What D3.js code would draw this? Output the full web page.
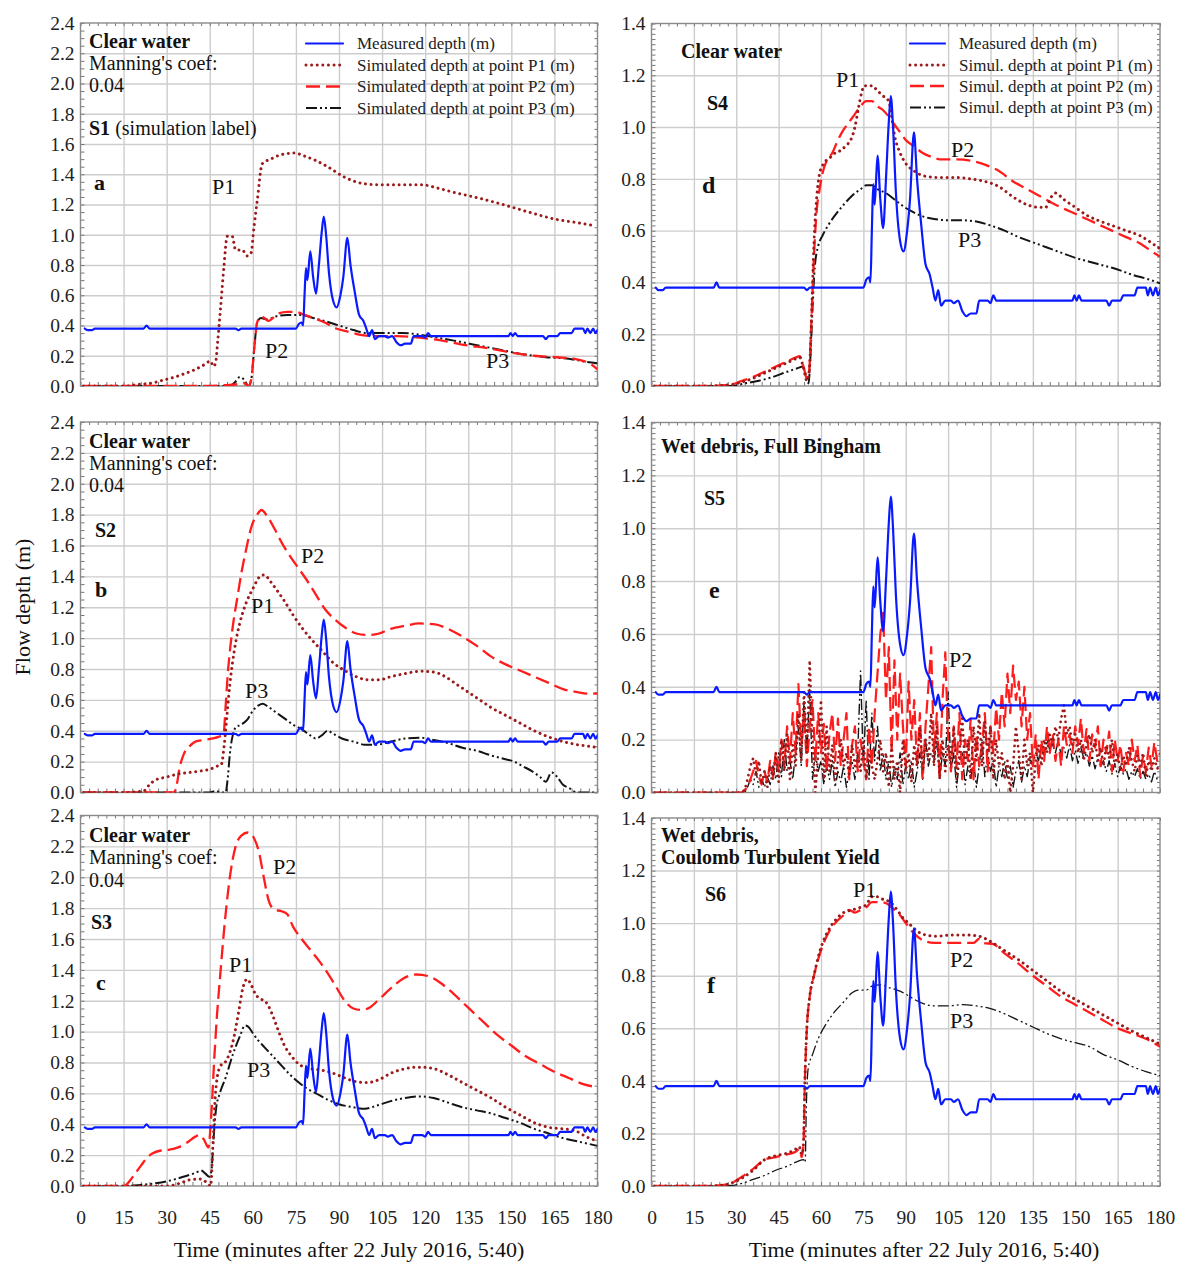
<!DOCTYPE html>
<html><head><meta charset="utf-8">
<script src="https://cdn.jsdelivr.net/npm/d3@7"></script>
<style>body{margin:0;background:#fff}</style>
</head><body>
<svg id="chart" width="1179" height="1262"></svg>
<script>
// ---------------- DATA ----------------
// Measured depth (same in all panels): [time (min), depth (m)]
const measured = [[1.5,0.38],[2.5,0.37],[4,0.37],[5,0.38],[22,0.38],[23,0.40],[24,0.38],[54,0.38],[55,0.37],[56,0.38],[75,0.38],[76,0.41],[77,0.42],[77.5,0.40],[78,0.60],[78.5,0.78],[79,0.70],[80,0.89],[81,0.72],[82,0.61],[83,0.80],[84,1.02],[84.7,1.12],[85.5,1.0],[86.5,0.75],[88,0.56],[89.2,0.52],[90.5,0.60],[91.5,0.72],[92.9,0.98],[94,0.80],[95.5,0.62],[97,0.47],[98.5,0.43],[99.5,0.38],[100.5,0.33],[101.5,0.37],[102.5,0.31],[104,0.33],[106,0.33],[107,0.32],[108.5,0.33],[110,0.29],[111.5,0.27],[113,0.28],[115,0.28],[116,0.33],[119,0.33],[120,0.32],[121,0.35],[122,0.33],[149,0.33],[149.7,0.35],[150.5,0.33],[151.3,0.35],[152.2,0.33],[161,0.33],[162,0.31],[163,0.33],[166,0.33],[167,0.35],[171,0.35],[172,0.38],[175,0.38],[175.7,0.35],[176.5,0.38],[177.5,0.35],[178.5,0.38],[179.3,0.35],[180,0.37]];

// Panel a (S1)
const aP1 = [[1,0],[10,0],[16,0.0],[20,0.01],[25,0.02],[29,0.04],[33,0.06],[36,0.08],[40,0.11],[43,0.14],[45.3,0.165],[46.2,0.13],[47,0.15],[47.8,0.3],[48.7,0.5],[49.9,0.78],[51.1,0.99],[52.8,0.99],[54,0.9],[56.3,0.9],[58,0.86],[59.4,0.88],[60.4,1.05],[61.5,1.22],[63.3,1.47],[66.2,1.5],[70,1.53],[74.5,1.54],[78,1.52],[82,1.49],[86,1.45],[92,1.38],[98,1.34],[104,1.33],[112,1.33],[119,1.33],[124,1.31],[130,1.28],[137,1.25],[147,1.2],[156,1.15],[166,1.1],[173,1.08],[179,1.06]];
const aP2 = [[1,0],[20,0],[40,0],[50,0.005],[54,0.01],[57,0.02],[58.5,0.0],[59.5,0.05],[60.5,0.25],[61.5,0.42],[62.8,0.46],[64,0.45],[65.5,0.43],[67,0.45],[69,0.48],[72,0.49],[75,0.49],[78,0.47],[81,0.45],[85,0.42],[89,0.38],[93,0.36],[97,0.34],[102,0.33],[110,0.33],[118,0.32],[126,0.3],[134,0.27],[142,0.25],[150,0.22],[158,0.2],[166,0.19],[172,0.18],[176,0.16],[178,0.14],[180,0.11]];
const aP3 = [[1,0],[20,0],[40,0],[52,0.0],[54,0.03],[55.5,0.06],[57,0.04],[58.5,0.0],[59.5,0.05],[60.5,0.25],[61.5,0.42],[62.8,0.45],[65,0.44],[68,0.46],[72,0.47],[77,0.47],[81,0.45],[85,0.43],[90,0.4],[95,0.37],[100,0.35],[105,0.35],[112,0.35],[118,0.34],[124,0.32],[130,0.3],[138,0.27],[146,0.24],[154,0.21],[162,0.19],[170,0.18],[176,0.16],[180,0.15]];

// Panel b (S2)
const bP1 = [[1,0],[15,0],[22,0.01],[24,0.05],[26,0.08],[30,0.1],[34,0.12],[38,0.13],[42,0.14],[45,0.15],[47.5,0.17],[49,0.18],[50,0.3],[51,0.5],[52,0.7],[53,0.85],[54,0.97],[55.5,1.1],[57.5,1.22],[60,1.32],[62.5,1.4],[64,1.41],[66,1.37],[68,1.32],[71,1.24],[74,1.15],[77,1.07],[80,1.0],[84,0.92],[88,0.84],[92,0.79],[96,0.75],[100,0.73],[104,0.73],[108,0.75],[113,0.77],[118,0.785],[123,0.78],[127,0.75],[131,0.7],[135,0.65],[139,0.6],[143,0.55],[148,0.5],[153,0.45],[158,0.4],[163,0.36],[168,0.33],[173,0.31],[177,0.3],[180,0.29]];
const bP2 = [[1,0],[20,0],[30,0],[32.5,0.0],[33.5,0.05],[34.5,0.16],[36,0.25],[38,0.3],[40,0.33],[43,0.34],[46,0.35],[48,0.36],[49.8,0.38],[50.5,0.55],[51.2,0.75],[52.2,0.95],[53.2,1.1],[54.5,1.25],[56,1.42],[57.5,1.56],[59.5,1.72],[61.5,1.8],[63,1.83],[65,1.79],[67.5,1.71],[70,1.62],[73,1.53],[76,1.45],[79,1.37],[82,1.28],[85,1.19],[88,1.13],[92,1.07],[96,1.03],[100,1.02],[104,1.03],[108,1.06],[113,1.08],[118,1.095],[123,1.09],[128,1.06],[133,1.01],[138,0.95],[143,0.88],[148,0.83],[153,0.79],[158,0.75],[163,0.71],[168,0.67],[173,0.65],[177,0.64],[180,0.64]];
const bP3 = [[1,0],[20,0],[40,0],[45,0.0],[47,0.01],[49,0.0],[50.5,0.0],[51.3,0.1],[52,0.25],[53,0.37],[54,0.42],[56,0.44],[58,0.47],[60,0.53],[62,0.565],[63.5,0.575],[65,0.56],[68,0.52],[71,0.48],[74,0.44],[77,0.41],[80,0.37],[82,0.35],[84,0.37],[86,0.4],[88,0.38],[91,0.35],[95,0.33],[99,0.31],[103,0.31],[108,0.33],[113,0.35],[118,0.355],[123,0.34],[128,0.32],[133,0.29],[138,0.27],[143,0.24],[147,0.22],[151,0.2],[154,0.17],[157,0.14],[160,0.1],[162,0.07],[164,0.13],[166,0.1],[168,0.05],[170,0.03],[173,0.0],[180,0.0]];

// Panel c (S3)
const cP1 = [[1,0],[20,0],[30,0.0],[35,0.02],[38,0.04],[42,0.045],[44,0.02],[45.3,0.0],[46.2,0.3],[47,0.6],[48.5,0.77],[51,0.82],[53,0.93],[55,1.12],[56.5,1.28],[58,1.34],[59.5,1.3],[61,1.24],[63,1.21],[65,1.18],[67,1.1],[69,1.0],[71,0.91],[73.5,0.84],[76,0.79],[80,0.76],[84,0.75],[88,0.73],[92,0.7],[96,0.675],[100,0.67],[104,0.69],[108,0.73],[113,0.76],[118,0.77],[123,0.76],[128,0.72],[133,0.67],[138,0.62],[143,0.57],[148,0.51],[153,0.46],[158,0.41],[163,0.38],[168,0.37],[172,0.36],[176,0.32],[180,0.29]];
const cP2 = [[1,0],[10,0],[15,0.0],[17,0.03],[19,0.08],[21,0.13],[23,0.18],[25,0.21],[28,0.23],[31,0.235],[34,0.25],[37,0.28],[40,0.32],[41.5,0.33],[43,0.3],[44.5,0.25],[45.5,0.45],[46.5,0.8],[47.5,1.1],[48.8,1.4],[50.2,1.7],[52,2.0],[54,2.2],[56,2.27],[58.3,2.29],[60.5,2.25],[62.3,2.15],[63.8,2.0],[65.5,1.85],[67.5,1.79],[70,1.78],[72,1.76],[74,1.68],[77,1.6],[80,1.53],[83,1.46],[86,1.38],[89,1.29],[92,1.2],[95,1.15],[98,1.14],[101,1.16],[104,1.21],[108,1.28],[112,1.34],[117,1.37],[121,1.36],[125,1.32],[129,1.26],[133,1.19],[137,1.12],[141,1.05],[145,0.98],[150,0.91],[155,0.84],[160,0.79],[165,0.74],[170,0.7],[175,0.66],[180,0.64]];
const cP3 = [[1,0],[15,0],[20,0.005],[25,0.015],[30,0.03],[35,0.055],[40,0.085],[42,0.1],[43.5,0.08],[44.8,0.06],[45.6,0.1],[46.3,0.3],[47.2,0.5],[48.5,0.6],[50.5,0.7],[53,0.85],[55.5,0.97],[57.3,1.04],[58.5,1.03],[60,0.99],[62,0.94],[64,0.9],[67,0.84],[70,0.78],[73,0.72],[76,0.67],[79,0.63],[82,0.6],[86,0.56],[90,0.53],[95,0.51],[99,0.5],[103,0.52],[108,0.55],[113,0.57],[118,0.58],[123,0.57],[128,0.54],[133,0.51],[138,0.49],[143,0.47],[148,0.44],[153,0.41],[158,0.37],[163,0.34],[168,0.31],[174,0.285],[180,0.26]];

// Panel d (S4)
const dP1 = [[1,0],[20,0],[28,0.005],[32,0.015],[36,0.03],[40,0.05],[44,0.07],[48,0.09],[51,0.105],[52.5,0.11],[53.8,0.07],[55,0.02],[55.8,0.05],[56.6,0.25],[57.5,0.55],[58.5,0.73],[59.5,0.82],[61,0.86],[63,0.88],[65,0.9],[67,0.91],[69,0.93],[70.5,0.95],[72,1.0],[73.2,1.07],[74.3,1.13],[75.5,1.16],[78,1.16],[80,1.14],[82,1.12],[84,1.1],[85,1.04],[86,0.97],[88,0.9],[90,0.86],[93,0.83],[97,0.81],[102,0.805],[108,0.805],[113,0.8],[118,0.79],[123,0.77],[128,0.73],[133,0.7],[137,0.69],[139.5,0.69],[141.5,0.73],[143,0.745],[146,0.72],[150,0.69],[154,0.66],[158,0.64],[163,0.62],[168,0.6],[173,0.58],[178,0.545],[180,0.53]];
const dP2 = [[1,0],[20,0],[28,0.005],[32,0.02],[36,0.035],[40,0.055],[44,0.075],[48,0.095],[51,0.11],[52.5,0.115],[53.8,0.075],[55,0.03],[55.8,0.06],[56.6,0.25],[57.5,0.5],[58.5,0.68],[59.5,0.76],[60.5,0.82],[62,0.87],[64,0.9],[66,0.95],[68,0.99],[70,1.02],[72,1.05],[74,1.08],[76,1.1],[78,1.1],[80,1.08],[82,1.065],[84,1.04],[86,1.01],[88,0.98],[90,0.95],[93,0.925],[96,0.9],[99,0.885],[103,0.875],[108,0.875],[113,0.87],[118,0.855],[123,0.83],[128,0.79],[133,0.76],[138,0.73],[143,0.7],[148,0.675],[153,0.65],[158,0.625],[163,0.6],[168,0.575],[173,0.55],[177,0.52],[180,0.5]];
const dP3 = [[1,0],[20,0],[28,0.0],[33,0.01],[38,0.02],[43,0.035],[48,0.055],[52,0.07],[53.5,0.075],[55,0.03],[55.6,0.01],[56.2,0.1],[57,0.3],[57.8,0.46],[59,0.54],[60.5,0.58],[62.5,0.62],[65,0.66],[68,0.7],[71,0.735],[74,0.76],[76,0.775],[78,0.775],[80,0.76],[83,0.745],[86,0.72],[89,0.695],[92,0.675],[96,0.655],[100,0.645],[105,0.64],[110,0.64],[115,0.635],[120,0.62],[125,0.6],[130,0.575],[135,0.555],[140,0.535],[145,0.515],[150,0.495],[155,0.48],[160,0.465],[165,0.45],[170,0.43],[175,0.415],[180,0.397]];

// Panel e (S5): values at one-minute steps from 30 to 180 min (zero before)
const eStart = 30;
const eP1 = [0,0,0,0.01,0.05,0.1,0.13,0.06,0.12,0.03,
 0.08,0.02,0.1,0.05,0.15,0.04,0.2,0.08,0.22,0.05,
 0.18,0.1,0.3,0.12,0.38,0.15,0.5,0.2,0.0,0.15,
 0.35,0.05,0.25,0.08,0.18,0.05,0.12,0.2,0.1,0.15,
 0.06,0.18,0.1,0.14,0.08,0.2,0.05,0.15,0.1,0.05,
 0.12,0.2,0.08,0.15,0.02,0.18,0.05,0.12,0.0,0.2,
 0.08,0.15,0.04,0.18,0.1,0.25,0.08,0.2,0.12,0.3,
 0.1,0.25,0.05,0.2,0.08,0.18,0.1,0.25,0.05,0.15,
 0.28,0.1,0.2,0.05,0.25,0.12,0.3,0.1,0.27,0.15,
 0.25,0.05,0.2,0.1,0.15,0.05,0.12,0.0,0.1,0.25,
 0.15,0.05,0.2,0.1,0.15,0.0,0.12,0.18,0.1,0.2,
 0.15,0.22,0.18,0.25,0.2,0.28,0.33,0.22,0.25,0.18,
 0.22,0.15,0.2,0.12,0.18,0.22,0.15,0.2,0.12,0.17,
 0.1,0.18,0.13,0.2,0.1,0.15,0.08,0.14,0.1,0.17,
 0.12,0.08,0.14,0.1,0.15,0.06,0.12,0.08,0.13,0.09,
 0.1];
const eP2 = [0,0,0,0.01,0.02,0.05,0.08,0.12,0.06,0.03,
 0.08,0.04,0.12,0.06,0.15,0.08,0.2,0.1,0.25,0.12,
 0.3,0.15,0.41,0.18,0.3,0.1,0.25,0.35,0.12,0.3,
 0.15,0.26,0.08,0.22,0.3,0.12,0.28,0.1,0.2,0.3,
 0.05,0.18,0.25,0.08,0.2,0.12,0.05,0.25,0.1,0.3,
 0.45,0.6,0.68,0.35,0.55,0.15,0.5,0.2,0.45,0.25,
 0.1,0.42,0.2,0.35,0.1,0.3,0.05,0.25,0.4,0.55,
 0.15,0.3,0.05,0.35,0.53,0.2,0.08,0.25,0.1,0.3,
 0.05,0.2,0.12,0.28,0.05,0.22,0.1,0.18,0.3,0.08,
 0.25,0.15,0.32,0.2,0.38,0.25,0.45,0.3,0.48,0.35,
 0.42,0.25,0.4,0.2,0.3,0.1,0.22,0.05,0.2,0.12,
 0.25,0.15,0.22,0.12,0.2,0.1,0.25,0.18,0.22,0.15,
 0.25,0.18,0.28,0.15,0.24,0.12,0.22,0.17,0.25,0.1,
 0.2,0.15,0.23,0.08,0.2,0.12,0.18,0.08,0.15,0.1,
 0.2,0.12,0.18,0.06,0.14,0.08,0.17,0.1,0.19,0.12,
 0.15];
const eP3 = [0,0,0,0,0.02,0.05,0.03,0.08,0.02,0.05,
 0.02,0.06,0.03,0.1,0.05,0.15,0.06,0.2,0.08,0.12,
 0.05,0.15,0.25,0.1,0.35,0.15,0.39,0.05,0.15,0.08,
 0.12,0.03,0.1,0.05,0.12,0.02,0.08,0.04,0.1,0.02,
 0.08,0.12,0.05,0.15,0.46,0.1,0.35,0.05,0.3,0.12,
 0.25,0.08,0.15,0.05,0.12,0.02,0.1,0.05,0.15,0.03,
 0.1,0.05,0.12,0.02,0.08,0.15,0.05,0.2,0.1,0.15,
 0.12,0.2,0.05,0.15,0.1,0.38,0.08,0.15,0.02,0.12,
 0.15,0.03,0.1,0.05,0.12,0.02,0.1,0.2,0.06,0.15,
 0.08,0.12,0.02,0.1,0.06,0.12,0.05,0.1,0.02,0.08,
 0.12,0.04,0.1,0.06,0.13,0.1,0.15,0.12,0.18,0.14,
 0.2,0.16,0.18,0.15,0.2,0.14,0.17,0.13,0.18,0.12,
 0.16,0.11,0.17,0.13,0.15,0.1,0.14,0.09,0.13,0.1,
 0.12,0.08,0.12,0.07,0.11,0.06,0.1,0.07,0.09,0.05,
 0.08,0.06,0.09,0.05,0.08,0.05,0.07,0.04,0.08,0.05,
 0.05];

// Panel f (S6)
const fP1 = [[1,0],[20,0],[25,0.003],[28,0.01],[32,0.03],[36,0.06],[40,0.1],[44,0.115],[48,0.125],[51,0.14],[52.3,0.15],[53.2,0.12],[53.8,0.16],[54.3,0.4],[55,0.6],[56,0.72],[57.5,0.8],[59.5,0.89],[62,0.96],[65,1.01],[68,1.04],[71,1.05],[74,1.06],[76,1.07],[78,1.1],[80,1.1],[82,1.09],[84.5,1.08],[87,1.05],[89,1.02],[91,1.0],[94,0.97],[97,0.955],[101,0.95],[106,0.955],[111,0.955],[116,0.95],[120,0.93],[125,0.895],[130,0.86],[135,0.82],[140,0.78],[145,0.74],[150,0.71],[155,0.68],[160,0.65],[165,0.62],[170,0.59],[175,0.565],[180,0.54]];
const fP2 = [[1,0],[20,0],[25,0.003],[28,0.01],[32,0.035],[36,0.065],[40,0.1],[44,0.11],[48,0.12],[51,0.13],[52.3,0.14],[53.2,0.11],[53.8,0.16],[54.3,0.4],[55,0.6],[56,0.72],[57.5,0.8],[59.5,0.88],[62,0.95],[65,1.0],[68,1.03],[70,1.05],[72,1.04],[74,1.05],[76,1.06],[78,1.08],[81,1.08],[84,1.07],[86,1.05],[88,1.03],[90,1.0],[93,0.96],[96,0.935],[100,0.925],[105,0.925],[110,0.925],[114,0.925],[116,0.94],[117.5,0.925],[121,0.92],[125,0.885],[130,0.845],[135,0.8],[140,0.76],[145,0.72],[150,0.69],[155,0.66],[160,0.63],[165,0.6],[170,0.58],[175,0.56],[180,0.53]];
const fP3 = [[1,0],[20,0],[28,0.002],[32,0.01],[36,0.025],[40,0.04],[44,0.06],[48,0.075],[52,0.095],[53.8,0.1],[54.4,0.09],[54.8,0.3],[55.5,0.45],[57,0.5],[59,0.56],[62,0.62],[65,0.665],[68,0.7],[71,0.735],[73,0.745],[76,0.745],[78,0.76],[81,0.765],[84,0.755],[87,0.745],[90,0.73],[93,0.71],[96,0.695],[100,0.685],[105,0.685],[110,0.69],[115,0.685],[120,0.675],[125,0.655],[130,0.63],[135,0.605],[140,0.58],[145,0.56],[150,0.545],[155,0.53],[160,0.5],[165,0.48],[170,0.455],[175,0.435],[180,0.42]];

const xTicks = [0,15,30,45,60,75,90,105,120,135,150,165,180];
const legendLong = ["Measured depth (m)","Simulated depth at point P1 (m)","Simulated depth at point P2 (m)","Simulated depth at point P3 (m)"];
const legendShort = ["Measured depth (m)","Simul. depth at point P1 (m)","Simul. depth at point P2 (m)","Simul. depth at point P3 (m)"];

// ---------------- DRAWING ----------------
const FONT = "'Liberation Serif','Times New Roman',Times,serif";
const svg = d3.select('#chart');
svg.append('rect').attr('width',1179).attr('height',1262).attr('fill','#fff');

const ST = {
  meas:{stroke:'#0a1aff', w:2.2, dash:null, cap:'round'},
  p1:{stroke:'#9c1a1a', w:3, dash:'0.01 5.6', cap:'round'},
  p2:{stroke:'#ff1c1c', w:2.3, dash:'14 6', cap:'butt'},
  p3:{stroke:'#141414', w:2, dash:'11 3 2 3 2 3', cap:'butt'}
};

const eSeries = arr => [[1,0]].concat(arr.map((v,i)=>[eStart+i, v]));

const L = {left:80.5, right:597.5}, R = {left:651.5, right:1160};
const panels = [
 {id:'a', col:L, top:23, bottom:386, ymax:2.4, minor:0.05, xlab:false, s:[aP3,aP2,aP1], p3w:2, legend:legendLong,
  legX:[306,343,357], legY:[43.5,65,86.5,108],
  texts:[[89,48,[['Clear water',1]]],[89,70,[["Manning's coef:",0]]],[89,92,[['0.04',0]]],[89,135,[['S1',1],[' (simulation label)',0]]],
         [94,190,[['a',1]],22],[212,194,[['P1',0]],22],[265,358,[['P2',0]],22],[486,368,[['P3',0]],22]]},
 {id:'b', col:L, top:422, bottom:792.5, ymax:2.4, minor:0.05, xlab:false, s:[bP3,bP2,bP1], p3w:2,
  texts:[[89,448,[['Clear water',1]]],[89,470,[["Manning's coef:",0]]],[89,492,[['0.04',0]]],[95,537,[['S2',1]]],
         [95,597,[['b',1]],22],[301,563,[['P2',0]],22],[251,613,[['P1',0]],22],[245,698,[['P3',0]],22]]},
 {id:'c', col:L, top:815.5, bottom:1186, ymax:2.4, minor:0.05, xlab:true, s:[cP3,cP2,cP1], p3w:2,
  texts:[[89,842,[['Clear water',1]]],[89,864,[["Manning's coef:",0]]],[89,887,[['0.04',0]]],[91,929,[['S3',1]]],
         [96,990,[['c',1]],22],[273,874,[['P2',0]],22],[229,972,[['P1',0]],22],[247,1077,[['P3',0]],22]]},
 {id:'d', col:R, top:23.5, bottom:386, ymax:1.4, minor:0.02, xlab:false, s:[dP3,dP2,dP1], p3w:2, legend:legendShort,
  legX:[910,945,959], legY:[43.5,65,86,107.5],
  texts:[[681,58,[['Clear water',1]]],[707,110,[['S4',1]]],[702,193,[['d',1]],24],[836,87,[['P1',0]],22],[951,157,[['P2',0]],22],[958,247,[['P3',0]],22]]},
 {id:'e', col:R, top:422.5, bottom:792.5, ymax:1.4, minor:0.02, xlab:false, s:[eSeries(eP3),eSeries(eP2),eSeries(eP1)], p3w:1.4, noisy:true,
  texts:[[661,453,[['Wet debris, Full Bingham',1]]],[704,505,[['S5',1]]],[709,598,[['e',1]],24],[949,667,[['P2',0]],22]]},
 {id:'f', col:R, top:818, bottom:1186, ymax:1.4, minor:0.02, xlab:true, s:[fP3,fP2,fP1], p3w:1.3,
  texts:[[661,842,[['Wet debris,',1]]],[661,864,[['Coulomb Turbulent Yield',1]]],[705,901,[['S6',1]]],[707,993,[['f',1]],24],
         [853,897,[['P1',0]],22],[950,967,[['P2',0]],22],[950,1028,[['P3',0]],22]]}
];

function styleLine(sel, st, w){
  sel.attr('fill','none').attr('stroke',st.stroke).attr('stroke-width',w||st.w)
     .attr('stroke-linecap',st.cap).attr('stroke-linejoin','round');
  if(st.dash) sel.attr('stroke-dasharray',st.dash);
  return sel;
}

panels.forEach(p=>{
  const g = svg.append('g');
  const x = d3.scaleLinear().domain([0,180]).range([p.col.left,p.col.right]);
  const y = d3.scaleLinear().domain([0,p.ymax]).range([p.bottom,p.top]);
  const W = p.col.right-p.col.left, H = p.bottom-p.top;
  const majorY = d3.range(0, p.ymax+1e-6, 0.2).map(v=>+v.toFixed(2));
  const minorY = d3.range(0, p.ymax+1e-6, p.minor).map(v=>+v.toFixed(3));
  const minorX = d3.range(0,181,3);

  // grid
  g.append('g').attr('transform',`translate(0,${p.bottom})`)
    .call(d3.axisBottom(x).tickValues(xTicks.slice(1,-1)).tickSize(-H).tickFormat(''))
    .call(s=>{s.select('.domain').remove(); s.selectAll('line').attr('stroke','#cdcdcd').attr('stroke-width',1.4);});
  g.append('g').attr('transform',`translate(${p.col.left},0)`)
    .call(d3.axisLeft(y).tickValues(majorY.slice(1,-1)).tickSize(-W).tickFormat(''))
    .call(s=>{s.select('.domain').remove(); s.selectAll('line').attr('stroke','#cdcdcd').attr('stroke-width',1.4);});

  // minor ticks (inward) on all four sides
  const tickStyle = s=>{s.select('.domain').remove(); s.selectAll('line').attr('stroke','#777').attr('stroke-width',1);};
  g.append('g').attr('transform',`translate(0,${p.bottom})`).call(d3.axisBottom(x).tickValues(minorX).tickSize(-4).tickFormat('')).call(tickStyle);
  g.append('g').attr('transform',`translate(0,${p.top})`).call(d3.axisTop(x).tickValues(minorX).tickSize(-3).tickFormat('')).call(tickStyle);
  g.append('g').attr('transform',`translate(${p.col.left},0)`).call(d3.axisLeft(y).tickValues(minorY).tickSize(-4).tickFormat('')).call(tickStyle);
  g.append('g').attr('transform',`translate(${p.col.right},0)`).call(d3.axisRight(y).tickValues(minorY).tickSize(-3).tickFormat('')).call(tickStyle);

  // frame
  g.append('rect').attr('x',p.col.left).attr('y',p.top).attr('width',W).attr('height',H)
    .attr('fill','none').attr('stroke','#8a8a8a').attr('stroke-width',1.4);

  // y tick labels
  g.append('g').attr('transform',`translate(${p.col.left},0)`)
    .call(d3.axisLeft(y).tickValues(majorY).tickSize(0).tickPadding(6).tickFormat(d3.format('.1f')))
    .call(s=>{s.select('.domain').remove(); s.selectAll('text').attr('font-family',FONT).attr('font-size',19.5).attr('fill','#222');});
  if(p.xlab){
    g.append('g').attr('transform',`translate(0,${p.bottom})`)
      .call(d3.axisBottom(x).tickValues(xTicks).tickSize(0).tickPadding(24).tickFormat(d3.format('d')))
      .call(s=>{s.select('.domain').remove(); s.selectAll('text').attr('font-family',FONT).attr('font-size',19.5).attr('fill','#222');});
  }

  // clip
  const cid = 'clip-'+p.id;
  svg.append('clipPath').attr('id',cid).append('rect').attr('x',p.col.left).attr('y',p.top-2).attr('width',W).attr('height',H+2);
  const lg = g.append('g').attr('clip-path',`url(#${cid})`);
  const line = d3.line().x(d=>x(d[0])).y(d=>y(d[1])).curve(p.noisy?d3.curveLinear:d3.curveMonotoneX);
  const mline = d3.line().x(d=>x(d[0])).y(d=>y(d[1])).curve(d3.curveMonotoneX);
  const [s3,s2,s1] = p.s;
  styleLine(lg.append('path').datum(s3).attr('d',line), ST.p3, p.p3w);
  styleLine(lg.append('path').datum(s2).attr('d',line), ST.p2, p.noisy?2.2:null);
  styleLine(lg.append('path').datum(s1).attr('d',line), ST.p1, p.noisy?2.7:null);
  styleLine(lg.append('path').datum(measured).attr('d',mline), ST.meas);

  // legend
  if(p.legend){
    const keys = ['meas','p1','p2','p3'];
    p.legend.forEach((txt,i)=>{
      const yy = p.legY[i];
      styleLine(g.append('line').attr('x1',p.legX[0]).attr('x2',p.legX[1]).attr('y1',yy).attr('y2',yy), ST[keys[i]]);
      g.append('text').attr('x',p.legX[2]).attr('y',yy+5.5).attr('font-family',FONT).attr('font-size',17).attr('fill','#222').text(txt);
    });
  }

  // annotations
  p.texts.forEach(([tx,ty,parts,size])=>{
    const t = g.append('text').attr('x',tx).attr('y',ty).attr('font-family',FONT).attr('font-size',size||20).attr('fill','#111');
    parts.forEach(([str,b])=>t.append('tspan').attr('font-weight',b?'bold':'normal').text(str));
  });
});

// axis titles
svg.append('text').attr('transform','translate(30,607) rotate(-90)').attr('text-anchor','middle')
  .attr('font-family',FONT).attr('font-size',22).attr('fill','#111').text('Flow depth (m)');
svg.append('text').attr('x',349).attr('y',1257).attr('text-anchor','middle')
  .attr('font-family',FONT).attr('font-size',22).attr('fill','#111').text('Time (minutes after 22 July 2016, 5:40)');
svg.append('text').attr('x',924).attr('y',1257).attr('text-anchor','middle')
  .attr('font-family',FONT).attr('font-size',22).attr('fill','#111').text('Time (minutes after 22 July 2016, 5:40)');
</script></body></html>
